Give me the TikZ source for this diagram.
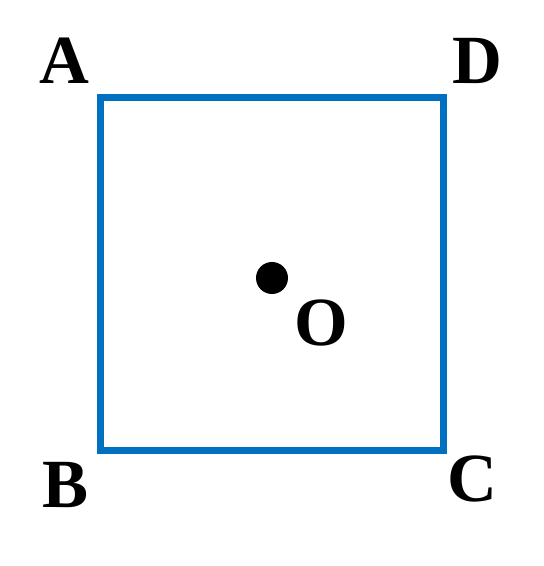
\documentclass[tikz,border=0pt]{standalone}
\usepackage{fontspec}
\setmainfont{Liberation Serif}
\usepackage{xcolor}
\definecolor{sqblue}{RGB}{0,112,192}
\usetikzlibrary{positioning}

\begin{document}
\begin{tikzpicture}[x=1pt, y=1pt,
  side/.style={draw=sqblue, line width=7pt, line join=miter},
  lbl/.style={font=\fontsize{69}{69}\selectfont\bfseries, inner sep=0pt},
  centre/.style={circle, fill=black, minimum size=32pt, inner sep=0pt},
]

  % === Frame ===
  \useasboundingbox (0,0) rectangle (544,566);

  % === Corners ===
  \coordinate (cA) at (100,468);
  \coordinate (cB) at (100,115);
  \coordinate (cC) at (443,115);
  \coordinate (cD) at (443,468);

  % Square
  \draw[side] (cA) -- (cB) -- (cC) -- (cD) -- cycle;

  % === Labels ===
  \node[lbl] (labA) at (64,505) {A};
  \node[lbl] (labD) at (477,505) {D};
  \node[lbl] (labB) at (66,81) {B};
  \node[lbl] (labC) at (472,87) {C};

  % Centre point
  \node[centre] (ptO) at (272,288) {};
  \node[lbl] (labO) at (321,243) {O};

\end{tikzpicture}
\end{document}
